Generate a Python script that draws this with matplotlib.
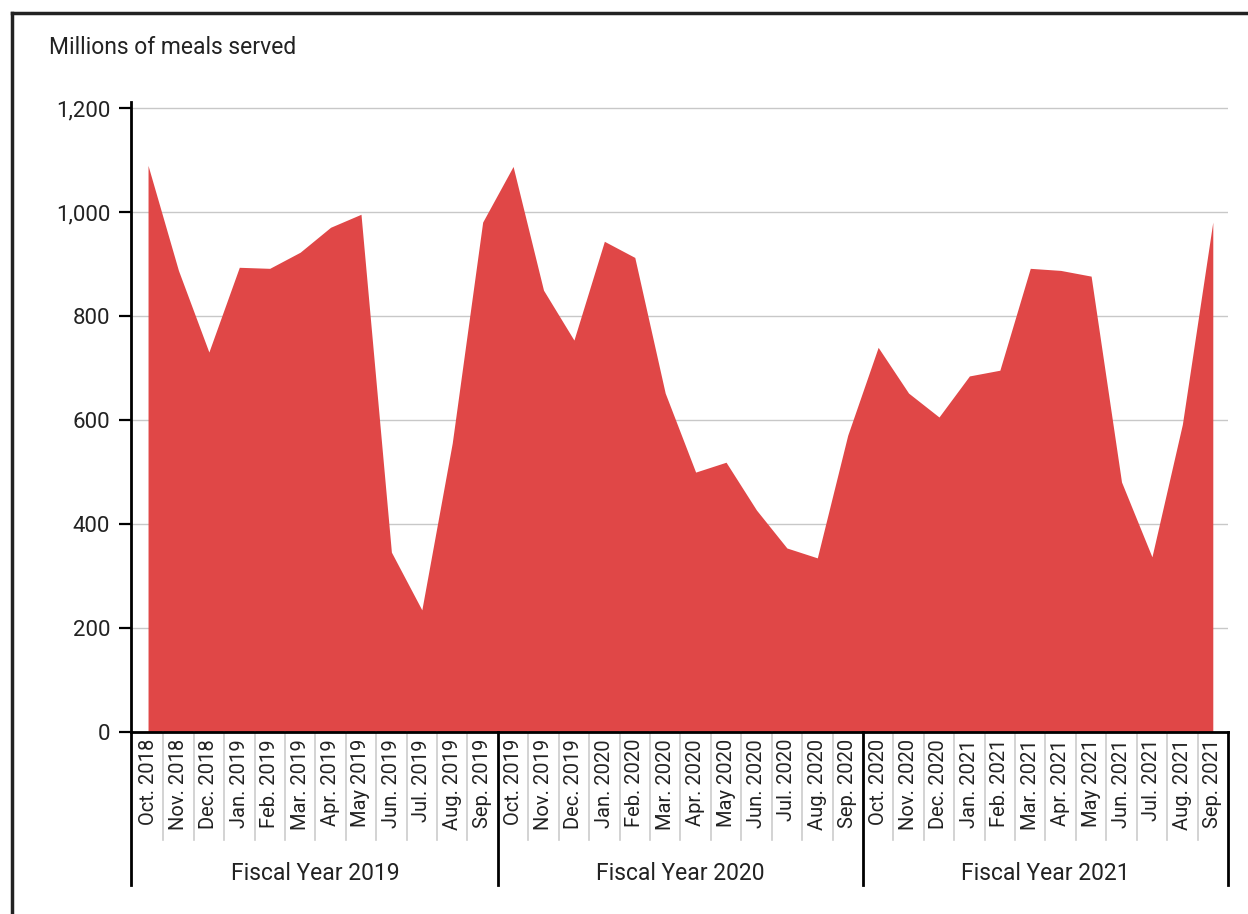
import matplotlib
matplotlib.use("Agg")
from matplotlib import pyplot as plt
from matplotlib.lines import Line2D
import matplotlib.transforms as mtransforms

plt.rcParams['font.family'] = ['Roboto', 'DejaVu Sans']

months = ['Oct.', 'Nov.', 'Dec.', 'Jan.', 'Feb.', 'Mar.', 'Apr.', 'May', 'Jun.', 'Jul.', 'Aug.', 'Sep.']
fiscal_years = ['Fiscal Year 2019', 'Fiscal Year 2020', 'Fiscal Year 2021']
month_labels = []
for fy in [2019, 2020, 2021]:
    for i, m in enumerate(months):
        yr = fy - 1 if i < 3 else fy
        month_labels.append(f'{m} {yr}')

meals = [1090, 888, 731, 894, 892, 923, 971, 996, 346, 235, 556, 981,
         1088, 850, 754, 944, 913, 652, 500, 519, 427, 354, 335, 571,
         740, 652, 606, 685, 696, 892, 888, 877, 481, 337, 592, 981]

y_ticks = [0, 200, 400, 600, 800, 1000, 1200]

W, H = 1248, 914
fig = plt.figure(figsize=(W / 100, H / 100), dpi=100)
ax = fig.add_axes([131 / W, (H - 732) / H, (1228 - 131) / W, (732 - 102) / H])

x = list(range(len(meals)))
ax.fill_between(x, meals, 0, color='#E04747', linewidth=0, zorder=2)

ax.set_xlim(-0.56, 35.5)
ax.set_ylim(0, 1212)
ax.set_yticks(y_ticks)
ax.set_yticklabels([f'{v:,}' for v in y_ticks], fontsize=16, color='#222222')
ax.yaxis.grid(True, color='#c8c8c8', linewidth=1, zorder=1)
ax.set_axisbelow(True)
ax.tick_params(axis='y', length=9, width=1.6, direction='out', pad=6)

ax.set_xticks(x)
ax.set_xticklabels(month_labels, rotation=90, fontsize=14.5, color='#222222', va='top')
ax.tick_params(axis='x', length=0, pad=5)

for s in ['top', 'right']:
    ax.spines[s].set_visible(False)
ax.spines['left'].set_linewidth(2)
ax.spines['bottom'].set_linewidth(2)

trans = mtransforms.blended_transform_factory(ax.transData, ax.transAxes)
# light separators between month labels
for k in range(36):
    if k % 12 == 11:
        continue
    ax.add_line(Line2D([k + 0.5, k + 0.5], [0, -0.171], transform=trans,
                       color='#cccccc', linewidth=1.2, clip_on=False))
# year separators
for b in [-0.56, 11.5, 23.5, 35.5]:
    ax.add_line(Line2D([b, b], [0, -0.243], transform=trans,
                       color='black', linewidth=2, clip_on=False))
for i, fy in enumerate(fiscal_years):
    ax.text(i * 12 + 5.5, -0.224, fy, transform=trans, ha='center', va='center',
            fontsize=16.5, color='#222222')

fig.text(49 / W, 1 - 48 / H, 'Millions of meals served', ha='left', va='center',
         fontsize=16.5, color='#222222')

# frame
fig.add_artist(Line2D([12 / W, 12 / W], [0, 1 - 13 / H], transform=fig.transFigure,
                      color='#222222', linewidth=2.5))
fig.add_artist(Line2D([12 / W, 1], [1 - 13 / H, 1 - 13 / H], transform=fig.transFigure,
                      color='#222222', linewidth=2.5))

fig.savefig('out.png', dpi=100)
